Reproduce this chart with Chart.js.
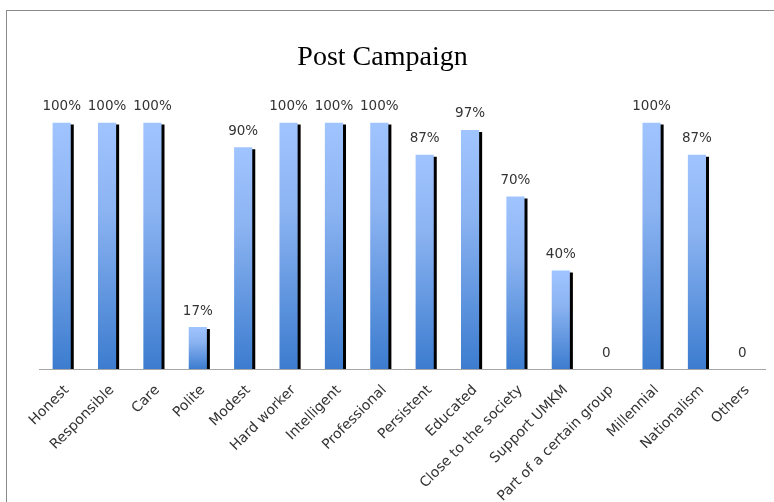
<!DOCTYPE html>
<html>
<head>
<meta charset="utf-8">
<script src="https://cdn.jsdelivr.net/npm/chart.js@4/dist/chart.umd.min.js"></script>
<style>
  html, body { margin: 0; padding: 0; background: #fff; }
  #wrap { position: relative; width: 774px; height: 502px; }
  #frame { position: absolute; left: 6px; top: 10px; right: 0; bottom: 0; border-top: 1px solid #8a8a8a; border-left: 1px solid #8a8a8a; }
  canvas { position: absolute; left: 0; top: 0; }
</style>
</head>
<body>
<div id="wrap">
  <div id="frame"></div>
  <canvas id="c" width="774" height="502"></canvas>
</div>
<script>
const categories = ["Honest", "Responsible", "Care", "Polite", "Modest", "Hard worker", "Intelligent", "Professional", "Persistent", "Educated", "Close to the society", "Support UMKM", "Part of a certain group", "Millennial", "Nationalism", "Others"];
const values = [100, 100, 100, 17, 90, 100, 100, 100, 87, 97, 70, 40, 0, 100, 87, 0];
const titleText = "Post Campaign";

const shadowPlugin = {
  id: 'barShadow',
  beforeDatasetDraw(chart) {
    const ctx = chart.ctx;
    ctx.save();
    ctx.shadowColor = 'rgba(0,0,0,1)';
    ctx.shadowOffsetX = 3;
    ctx.shadowOffsetY = 2;
    ctx.shadowBlur = 0;
  },
  afterDatasetDraw(chart) {
    chart.ctx.restore();
  }
};

const labelPlugin = {
  id: 'valueLabels',
  afterDatasetsDraw(chart) {
    const ctx = chart.ctx;
    const meta = chart.getDatasetMeta(0);
    ctx.save();
    ctx.font = '13.5px "DejaVu Sans"';
    ctx.fillStyle = '#333333';
    ctx.textAlign = 'center';
    ctx.textBaseline = 'middle';
    meta.data.forEach((bar, i) => {
      const v = values[i];
      const txt = v === 0 ? '0' : v + '%';
      ctx.fillText(txt, bar.x, bar.y - 16);
    });
    ctx.restore();
  }
};

function barGradient(c) {
  const chart = c.chart;
  const area = chart.chartArea;
  if (!area || c.raw === undefined) return '#7fa9ec';
  const y = chart.scales.y;
  const top = y.getPixelForValue(c.raw);
  const bottom = y.getPixelForValue(0);
  if (bottom - top < 1) return '#9ec3ff';
  const g = chart.ctx.createLinearGradient(0, top, 0, bottom);
  g.addColorStop(0, '#a0c4ff');
  g.addColorStop(0.35, '#8cb4f2');
  g.addColorStop(1, '#3c7ccf');
  return g;
}

new Chart(document.getElementById('c'), {
  type: 'bar',
  data: {
    labels: categories,
    datasets: [{
      data: values,
      backgroundColor: barGradient,
      borderWidth: 0,
      categoryPercentage: 0.8,
      barPercentage: 0.5
    }]
  },
  options: {
    responsive: false,
    animation: false,
    layout: { padding: { left: 0, right: 9, top: 0, bottom: 0 } },
    plugins: {
      legend: { display: false },
      tooltip: { enabled: false },
      title: {
        display: true,
        text: titleText,
        color: '#000',
        font: { family: '"Liberation Serif"', size: 28, weight: 'normal' },
        padding: { top: 41, bottom: 48 }
      }
    },
    scales: {
      x: {
        grid: { display: false },
        border: { display: true, color: '#a6a6a6', width: 1 },
        ticks: {
          color: '#333333',
          font: { family: '"DejaVu Sans"', size: 14 },
          minRotation: 45,
          maxRotation: 45,
          autoSkip: false,
          labelOffset: 5,
          padding: 5
        },
        afterFit(scale) { scale.height = 133; }
      },
      y: {
        display: true,
        min: 0,
        max: 100,
        grid: { display: false },
        border: { display: false },
        ticks: { display: false },
        afterFit(scale) { scale.width = 39; }
      }
    }
  },
  plugins: [shadowPlugin, labelPlugin]
});
</script>
</body>
</html>
